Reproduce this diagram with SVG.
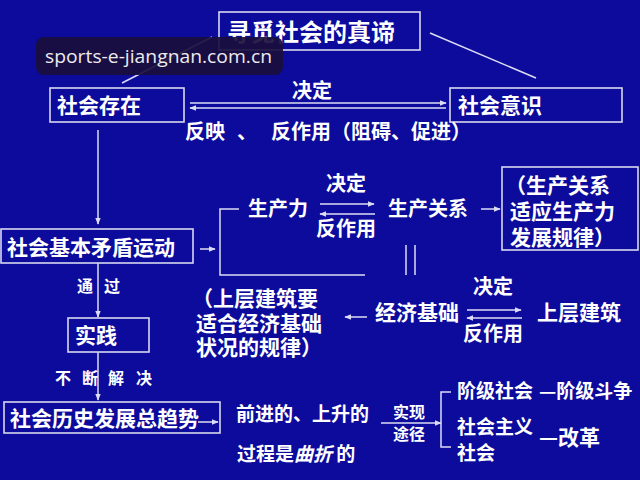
<svg xmlns="http://www.w3.org/2000/svg" width="640" height="480" viewBox="0 0 640 480">
<defs>
<marker id="ah" viewBox="0 0 10 10" refX="9" refY="5" markerWidth="7" markerHeight="7" markerUnits="userSpaceOnUse" orient="auto-start-reverse">
<path d="M0,1 L10,5 L0,9 z" fill="#dcdcf4"/>
</marker>
<style>
.bg{fill:#0d0b9c}
.box{fill:none;stroke:#d8d8f0;stroke-width:1.6}
.ln{fill:none;stroke:#dcdcf4;stroke-width:1.5}
.t{fill:#ffffff;font-family:"Noto Sans CJK SC","Noto Sans",sans-serif;font-weight:bold;font-size:21px}
.s{font-size:16px}
.m{font-size:19px}
</style>
</defs>
<rect class="bg" x="0" y="0" width="640" height="480"/>

<g id="connectors">
<line class="ln" x1="122" y1="83" x2="212" y2="37"/>
<line class="ln" x1="430" y1="33" x2="536" y2="78"/>
<line class="ln" x1="190" y1="103" x2="446" y2="103" marker-end="url(#ah)"/>
<line class="ln" x1="190" y1="108" x2="446" y2="108" marker-start="url(#ah)"/>
<line class="ln" x1="98" y1="130" x2="98" y2="224" marker-end="url(#ah)"/>
<line class="ln" x1="200" y1="249" x2="215" y2="249" marker-end="url(#ah)"/>
<polyline class="ln" points="239,209 220,209 220,275 365,275"/>
<line class="ln" x1="320" y1="204" x2="374" y2="204" marker-end="url(#ah)"/>
<line class="ln" x1="320" y1="214" x2="375" y2="214" marker-start="url(#ah)"/>
<line class="ln" x1="481" y1="209" x2="500" y2="209" marker-end="url(#ah)"/>
<line class="ln" x1="406" y1="245" x2="406" y2="275"/>
<line class="ln" x1="415" y1="245" x2="415" y2="275"/>
<line class="ln" x1="98" y1="263" x2="98" y2="317" marker-end="url(#ah)"/>
<line class="ln" x1="98" y1="352" x2="98" y2="400" marker-end="url(#ah)"/>
<line class="ln" x1="345" y1="317" x2="367" y2="317" marker-start="url(#ah)"/>
<line class="ln" x1="467" y1="310" x2="521" y2="310" marker-end="url(#ah)"/>
<line class="ln" x1="467" y1="318" x2="522" y2="318" marker-start="url(#ah)"/>
<line class="ln" x1="198" y1="422" x2="218" y2="422" marker-end="url(#ah)"/>
<line class="ln" x1="381" y1="423" x2="441" y2="423" marker-end="url(#ah)"/>
<polyline class="ln" points="451,392 441,392 441,447 451,447"/>
</g>

<g id="title">
<rect class="box" x="219" y="12" width="201" height="38"/>
<text class="t" x="227" y="41" style="font-size:24px">寻觅社会的真谛</text>
</g>

<g id="shehui-cunzai">
<rect class="box" x="50" y="88" width="134" height="34"/>
<text class="t" x="57" y="113">社会存在</text>
</g>

<g id="shehui-yishi">
<rect class="box" x="450" y="88" width="172" height="34"/>
<text class="t" x="458" y="113">社会意识</text>
</g>

<g id="label-top">
<text class="t" x="292" y="98" style="font-size:20px">决定</text>
<text class="t" x="185" y="139" style="font-size:20px">反映</text>
<text class="t" x="237" y="139" style="font-size:20px">、</text>
<text class="t" x="271" y="139" style="font-size:20px">反作用（阻碍、促进）</text>
</g>

<g id="jiben-maodun">
<rect class="box" x="1" y="229" width="192" height="34"/>
<text class="t" x="7" y="255">社会基本矛盾运动</text>
</g>

<g id="shengchanli">
<text class="t" x="248" y="216" style="font-size:20px">生产力</text>
<text class="t" x="326" y="191" style="font-size:20px">决定</text>
<text class="t" x="316" y="236" style="font-size:20px">反作用</text>
<text class="t" x="388" y="216" style="font-size:20px">生产关系</text>
</g>

<g id="guilv1">
<rect class="box" x="502" y="167" width="136" height="83"/>
<text class="t" x="505" y="193">（生产关系</text>
<text class="t" x="510" y="219">适应生产力</text>
<text class="t" x="510" y="245">发展规律）</text>
</g>

<g id="jingji-jichu">
<text class="t" x="192" y="306">（上层建筑要</text>
<text class="t" x="196" y="331">适合经济基础</text>
<text class="t" x="196" y="355">状况的规律）</text>
<text class="t" x="375" y="320">经济基础</text>
<text class="t" x="473" y="294" style="font-size:20px">决定</text>
<text class="t" x="463" y="341" style="font-size:20px">反作用</text>
<text class="t" x="537" y="320">上层建筑</text>
</g>

<g id="tongguo">
<text class="t s" x="77" y="292">通</text>
<text class="t s" x="104" y="292">过</text>
</g>

<g id="shijian">
<rect class="box" x="68" y="318" width="81" height="34"/>
<text class="t" x="75" y="343">实践</text>
</g>

<g id="buduan">
<text class="t s" x="55" y="384">不</text>
<text class="t s" x="82" y="384">断</text>
<text class="t s" x="108" y="384">解</text>
<text class="t s" x="136" y="384">决</text>
</g>

<g id="qushi">
<rect class="box" x="4" y="402" width="216" height="31"/>
<text class="t" x="10" y="426">社会历史发展总趋势</text>
</g>

<g id="qianjin">
<text class="t m" x="236" y="421">前进的、上升的</text>
<text class="t m" x="237" y="461">过程是<tspan font-style="italic">曲折</tspan> 的</text>
<text class="t s" x="393" y="418">实现</text>
<text class="t s" x="393" y="440">途径</text>
</g>

<g id="tujing">
<text class="t m" x="457" y="398">阶级社会</text>
<text class="t m" x="539" y="398">—阶级斗争</text>
<text class="t m" x="457" y="434">社会主义</text>
<text class="t m" x="457" y="460">社会</text>
<text class="t" x="539" y="445">—改革</text>
</g>

<g id="watermark">
<rect x="36" y="37" width="247" height="38" rx="8" fill="#1a0f3c" fill-opacity="0.92"/>
<text x="45" y="63" fill="#ececec" font-family="'Open Sans','Noto Sans',sans-serif" font-size="19" textLength="227" lengthAdjust="spacingAndGlyphs">sports-e-jiangnan.com.cn</text>
</g>
</svg>
